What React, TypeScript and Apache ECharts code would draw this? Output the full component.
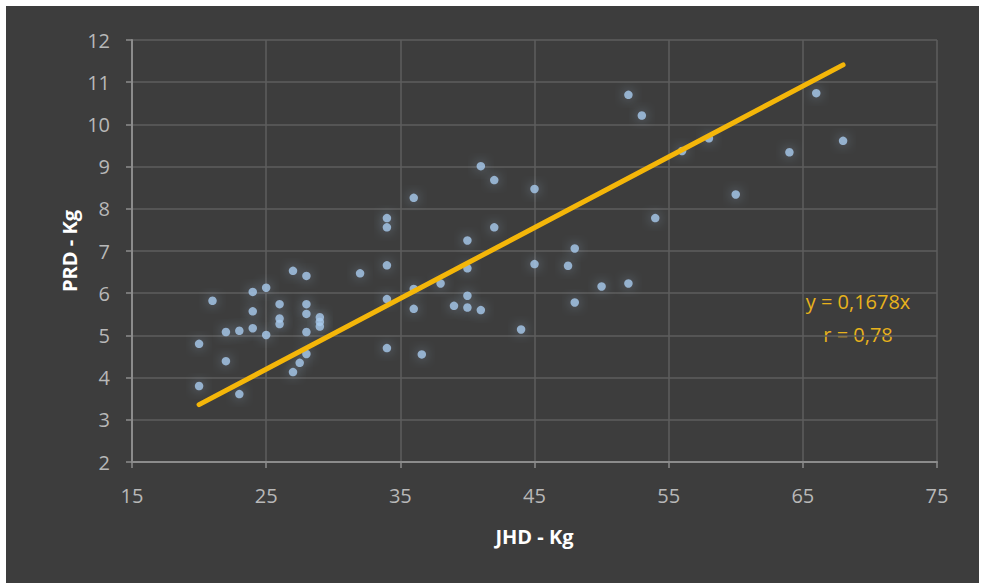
import React, { useEffect, useRef } from "react";
import * as echarts from "echarts";

const jhdValues: number[] = [
  20, 20, 21, 22, 22, 23, 23, 24, 24, 24, 25, 25, 26, 26, 26, 27, 27, 27.5, 28, 28, 28, 28, 28,
  29, 29, 29, 32, 34, 34, 34, 34, 34, 36, 36, 36, 36.6, 38, 39, 40, 40, 40, 40, 41, 41, 42, 42,
  44, 45, 45, 47.5, 48, 48, 50, 52, 52, 53, 54, 56, 58, 60, 64, 66, 68,
];
const prdValues: number[] = [
  4.8, 3.8, 5.82, 5.08, 4.39, 5.11, 3.61, 6.03, 5.57, 5.17, 6.13, 5.01, 5.74, 5.4, 5.27, 6.53,
  4.13, 4.35, 6.41, 5.74, 5.51, 5.08, 4.56, 5.43, 5.32, 5.21, 6.47, 7.78, 7.56, 6.66, 5.86, 4.7,
  8.26, 6.1, 5.63, 4.55, 6.23, 5.7, 7.25, 6.59, 5.94, 5.66, 9.01, 5.6, 8.68, 7.56, 5.14, 8.47,
  6.69, 6.65, 7.06, 5.78, 6.16, 10.7, 6.23, 10.21, 7.78, 9.37, 9.67, 8.34, 9.34, 10.74, 9.61,
];
const trendX: number[] = [20, 68];
const trendY: number[] = [3.36, 11.41];
const annotationLines: string[] = ["y = 0,1678x", "r = 0,78"];
const xTitle = "JHD - Kg";
const yTitle = "PRD - Kg";

const FONT = "'Open Sans', 'Noto Sans', sans-serif";

export default function App() {
  const ref = useRef<HTMLDivElement>(null);
  useEffect(() => {
    if (!ref.current) return;
    const chart = echarts.init(ref.current, null, { renderer: "svg" });
    const points = jhdValues.map((x, i) => [x, prdValues[i]]);
    const trend = trendX.map((x, i) => [x, trendY[i]]);
    chart.setOption({
      animation: false,
      backgroundColor: "#ffffff",
      graphic: [
        {
          type: "rect",
          z: -10,
          silent: true,
          shape: { x: 6, y: 6, width: 973, height: 577 },
          style: { fill: "#3d3d3d" },
        },
        {
          type: "text",
          x: 858,
          y: 301,
          style: {
            text: annotationLines[0],
            fill: "#e8b21c",
            font: `20px ${FONT}`,
            align: "center",
            verticalAlign: "middle",
          },
        },
        {
          type: "text",
          x: 858,
          y: 334,
          style: {
            text: annotationLines[1],
            fill: "#e8b21c",
            font: `20px ${FONT}`,
            align: "center",
            verticalAlign: "middle",
          },
        },
      ],
      grid: { left: 132, right: 45, top: 40, bottom: 121, containLabel: false },
      xAxis: {
        type: "value",
        min: 15,
        max: 75,
        interval: 10,
        name: xTitle,
        nameLocation: "middle",
        nameGap: 64,
        nameMoveOverlap: false,
        nameTextStyle: { color: "#ffffff", fontSize: 20, fontWeight: "bold", fontFamily: FONT },
        axisLine: { show: true, lineStyle: { color: "#8c8c8c", width: 2 } },
        axisTick: { show: true, length: 6, lineStyle: { color: "#8c8c8c", width: 1.5 } },
        axisLabel: { color: "#b8b8b8", fontSize: 20, fontFamily: FONT, margin: 23 },
        splitLine: { show: true, lineStyle: { color: "#5e5e5e", width: 1.5 } },
      },
      yAxis: {
        type: "value",
        min: 2,
        max: 12,
        interval: 1,
        name: yTitle,
        nameLocation: "middle",
        nameGap: 53,
        nameMoveOverlap: false,
        nameTextStyle: { color: "#ffffff", fontSize: 20, fontWeight: "bold", fontFamily: FONT },
        axisLine: { show: true, lineStyle: { color: "#8c8c8c", width: 2 } },
        axisTick: { show: true, length: 6, lineStyle: { color: "#8c8c8c", width: 1.5 } },
        axisLabel: { color: "#b8b8b8", fontSize: 20, fontFamily: FONT, margin: 22 },
        splitLine: { show: true, lineStyle: { color: "#5e5e5e", width: 1.5 } },
      },
      series: [
        {
          type: "scatter",
          data: points,
          symbolSize: 8.5,
          itemStyle: {
            color: "#a8cbee",
            shadowBlur: 12,
            shadowColor: "rgba(170,200,235,0.6)",
          },
          z: 2,
        },
        {
          type: "line",
          data: trend,
          symbol: "none",
          lineStyle: { color: "#f4b609", width: 5, cap: "round" },
          z: 3,
        },
      ],
    });
    return () => chart.dispose();
  }, []);
  return (
    <div
      ref={ref}
      style={{ position: "fixed", left: 0, top: 0, width: 982, height: 583 }}
    />
  );
}
